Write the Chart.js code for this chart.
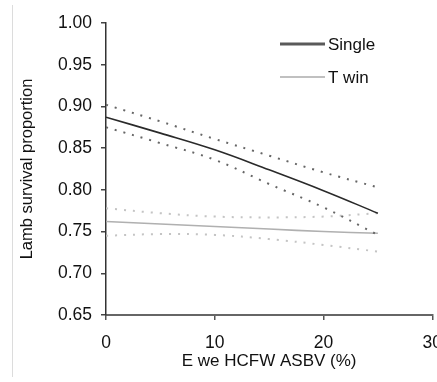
<!DOCTYPE html>
<html>
<head>
<meta charset="utf-8">
<script src="https://cdn.jsdelivr.net/npm/chart.js@4.4.1/dist/chart.umd.min.js"></script>
<style>
html,body{margin:0;padding:0;background:#fff;overflow:hidden;}
#wrap{position:relative;width:455px;height:382px;}
</style>
</head>
<body>
<div id="wrap"><canvas id="c"></canvas></div>
<script>
const xValues = [0, 5, 10, 15, 20, 25];
const singleMean  = [0.887, 0.868, 0.848, 0.824, 0.799, 0.772];
const singleUpper = [0.902, 0.882, 0.861, 0.841, 0.821, 0.803];
const singleLower = [0.875, 0.856, 0.836, 0.807, 0.779, 0.746];
const twinMean    = [0.762, 0.759, 0.756, 0.753, 0.750, 0.748];
const twinUpper   = [0.778, 0.772, 0.768, 0.767, 0.768, 0.772];
const twinLower   = [0.745, 0.747, 0.746, 0.741, 0.734, 0.726];
const seriesNames = ["Single", "T win"];
const xTitle = "E we HCFW ASBV (%)";
const yTitle = "Lamb survival proportion";

const pts = arr => arr.map((v, i) => ({x: xValues[i], y: v}));
const FONT = "'Liberation Sans', Arial, sans-serif";

const frameLine = {
  id: 'frameLine',
  beforeDraw(chart) {
    const ctx = chart.ctx;
    ctx.save();
    ctx.strokeStyle = '#dcdcdc';
    ctx.lineWidth = 1;
    ctx.beginPath();
    ctx.moveTo(12.5, 5);
    ctx.lineTo(12.5, 377);
    ctx.stroke();
    ctx.restore();
  }
};

const customLegend = {
  id: 'customLegend',
  afterDraw(chart) {
    const ctx = chart.ctx;
    const items = [
      {ds: chart.data.datasets[0], y: 44, w: 3},
      {ds: chart.data.datasets[3], y: 77, w: 2}
    ];
    ctx.save();
    items.forEach(it => {
      ctx.strokeStyle = it.ds.legendColor;
      ctx.lineWidth = it.w;
      ctx.beginPath();
      ctx.moveTo(280, it.y);
      ctx.lineTo(325, it.y);
      ctx.stroke();
      ctx.fillStyle = '#111';
      ctx.font = '17px ' + FONT;
      ctx.textBaseline = 'middle';
      ctx.textAlign = 'left';
      ctx.fillText(it.ds.label, 328, it.y + 1);
    });
    ctx.restore();
  }
};

const mainStyle = (color, w) => ({borderColor: color, borderWidth: w, pointRadius: 0, fill: false, tension: 0.4});
const ciStyle = (color) => ({borderColor: color, borderWidth: 2, borderDash: [2, 7], pointRadius: 0, fill: false, tension: 0.4});

new Chart(document.getElementById('c'), {
  type: 'line',
  data: {
    datasets: [
      Object.assign({label: seriesNames[0], data: pts(singleMean), legendColor: '#5a5a5a'}, mainStyle('#2a2a2a', 1.6)),
      Object.assign({label: seriesNames[0] + ' upper', data: pts(singleUpper)}, ciStyle('#666')),
      Object.assign({label: seriesNames[0] + ' lower', data: pts(singleLower)}, ciStyle('#666')),
      Object.assign({label: seriesNames[1], data: pts(twinMean), legendColor: '#c0c0c0'}, mainStyle('#b0b0b0', 1.6)),
      Object.assign({label: seriesNames[1] + ' upper', data: pts(twinUpper)}, ciStyle('#c4c4c4')),
      Object.assign({label: seriesNames[1] + ' lower', data: pts(twinLower)}, ciStyle('#c4c4c4'))
    ]
  },
  options: {
    responsive: true,
    maintainAspectRatio: false,
    animation: false,
    layout: {padding: {left: 14, top: 23, right: 0, bottom: 10}},
    plugins: {legend: {display: false}, tooltip: {enabled: false}},
    scales: {
      x: {
        type: 'linear', min: 0, max: 30,
        ticks: {stepSize: 10, color: '#111', font: {family: FONT, size: 17.5}, padding: 13, maxRotation: 0},
        grid: {drawOnChartArea: false, drawTicks: true, tickLength: 5, color: '#555', lineWidth: 1.5},
        border: {color: '#666', width: 2},
        title: {display: true, text: xTitle, color: '#111', font: {family: FONT, size: 17}, padding: {top: 0, bottom: 0}},
        afterFit(scale) { scale.height = 57; }
      },
      y: {
        type: 'linear', min: 0.65, max: 1.0,
        ticks: {stepSize: 0.05, color: '#111', font: {family: FONT, size: 17.5}, padding: 9,
                callback: v => v.toFixed(2)},
        grid: {drawOnChartArea: false, drawTicks: true, tickLength: 5, color: '#444', lineWidth: 1.5},
        border: {color: '#333', width: 1.5},
        title: {display: true, text: yTitle, color: '#111', font: {family: FONT, size: 16.5}, padding: {top: 4, bottom: 8}},
        afterFit(scale) { scale.width = 92; }
      }
    }
  },
  plugins: [frameLine, customLegend]
});
</script>
</body>
</html>
